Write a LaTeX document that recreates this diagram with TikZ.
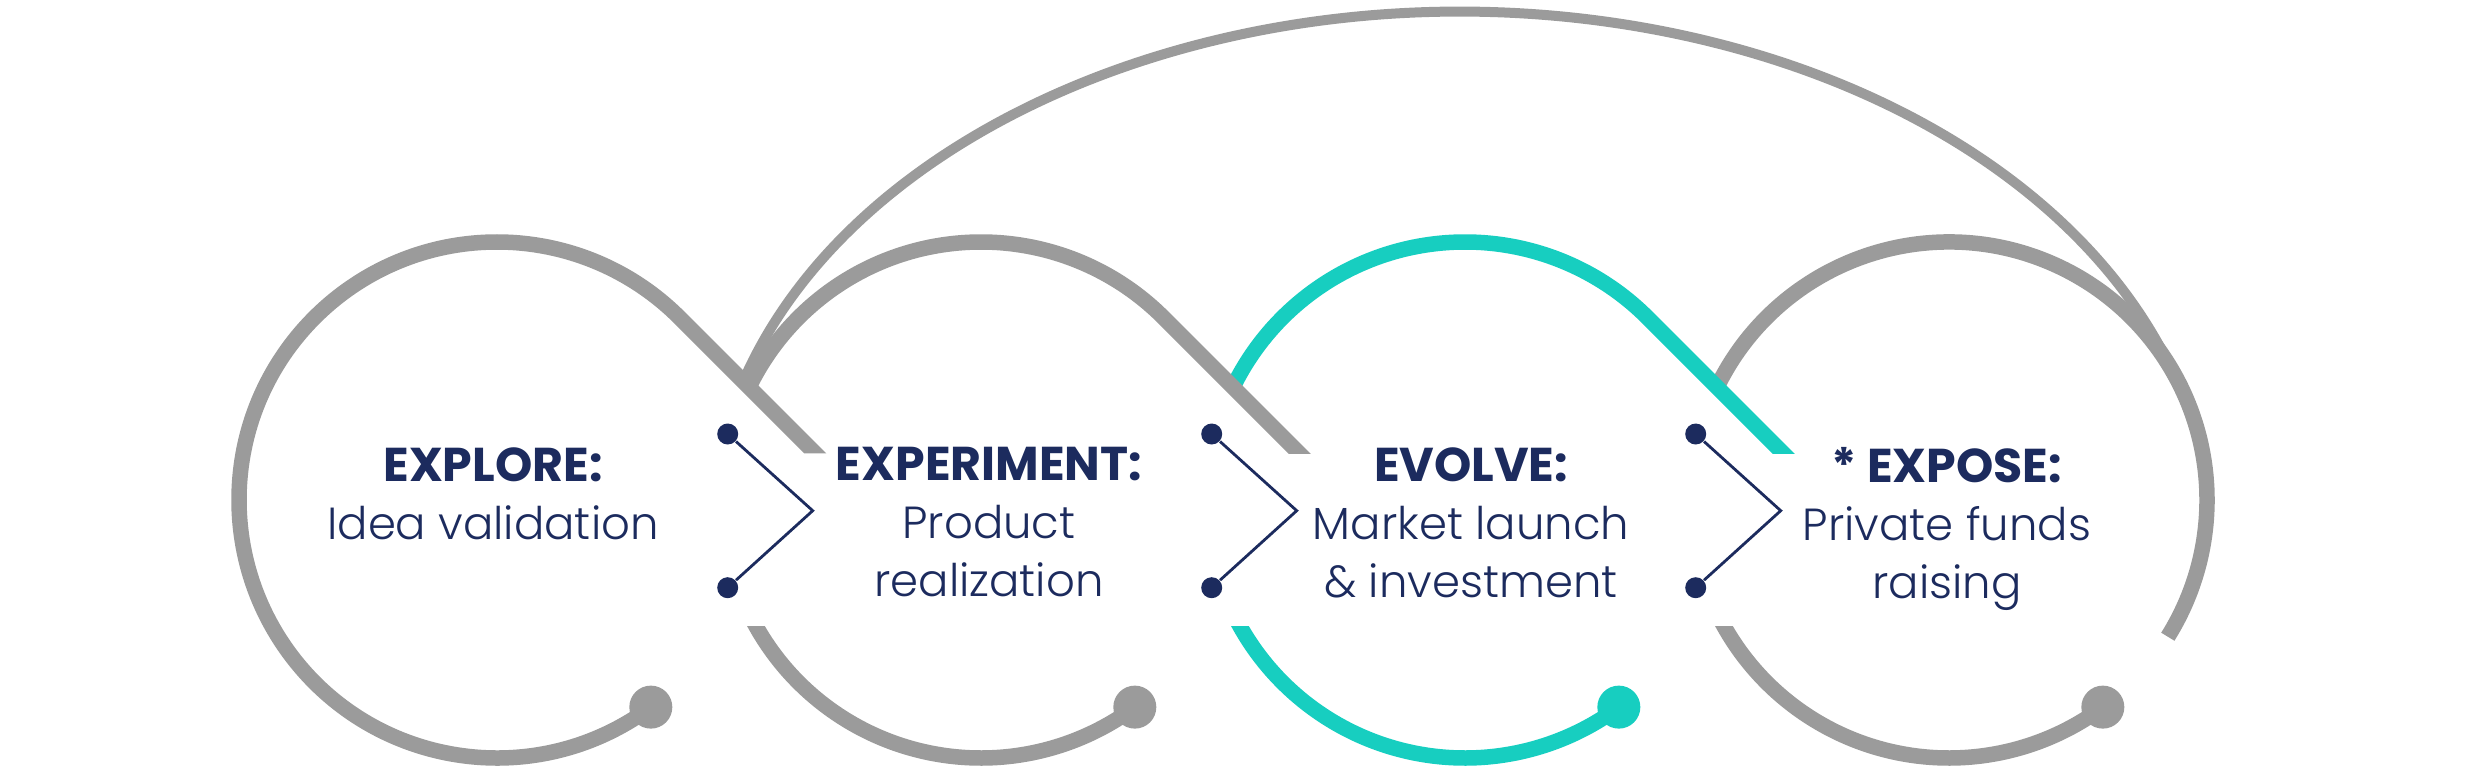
\documentclass[tikz,border=0pt]{standalone}
\usepackage{fontspec}
\setmainfont{Poppins Light}[BoldFont=Poppins Bold]
\usetikzlibrary{calc}
\definecolor{ringgray}{HTML}{9B9B9B}
\definecolor{ringteal}{HTML}{17CEC0}
\definecolor{inkblue}{HTML}{1C2B5E}
\newcommand{\stagehead}[1]{{\fontsize{13.5}{16.5}\selectfont\bfseries #1}}
\tikzset{
  ring/.style={line width=1.55mm},
  bigloop/.style={draw=ringgray, line width=1mm},
  knob/.style={circle, inner sep=0pt, minimum size=4.3mm},
  pin/.style={circle, fill=inkblue, inner sep=0pt, minimum size=2.1mm},
  zigzag/.style={draw=inkblue, line width=0.28mm},
  stage/.style={text=inkblue, align=center, anchor=north, inner sep=0pt,
    font=\fontsize{12.8}{16.5}\selectfont}
}
\begin{document}
\begin{tikzpicture}
\useasboundingbox (0,0) rectangle (24.8,7.76);
\coordinate (c1) at (4.97,2.76);
\coordinate (c2) at (9.81,2.76);
\coordinate (c3) at (14.65,2.76);
\coordinate (c4) at (19.49,2.76);
\coordinate (loopc) at (14.60,2.437);

% expose ring
\draw[ring, ringgray] ($(c4)+(155:2.58)$) arc[start angle=155, end angle=-32, radius=2.58];
\begin{scope}
  \clip ($(c4)+(-3,-3)$) rectangle ($(c4)+(3,-1.267)$);
  \draw[ring, ringgray] ($(c4)+(200:2.58)$) arc[start angle=200, end angle=306.6, radius=2.58];
\end{scope}
\node[knob, fill=ringgray] (knob4) at ($(c4)+(-53.4:2.58)$) {};

% long way back
\draw[bigloop] ($(loopc)+(163:7.49 and 5.206)$) arc[start angle=163, end angle=18, x radius=7.49, y radius=5.206];

% evolve ring
\begin{scope}
  \clip ($(c3)+(-3,0.467)$) rectangle ($(c3)+(3.6,2.9)$);
  \draw[ring, ringteal] ($(c3)+(155:2.58)$) arc[start angle=155, end angle=45, radius=2.58] -- ++(-45:2.2);
\end{scope}
\begin{scope}
  \clip ($(c3)+(-3,-3)$) rectangle ($(c3)+(3,-1.267)$);
  \draw[ring, ringteal] ($(c3)+(200:2.58)$) arc[start angle=200, end angle=306.6, radius=2.58];
\end{scope}
\node[knob, fill=ringteal] (knob3) at ($(c3)+(-53.4:2.58)$) {};

% experiment ring
\begin{scope}
  \clip ($(c2)+(-3,0.467)$) rectangle ($(c2)+(3.6,2.9)$);
  \draw[ring, ringgray] ($(c2)+(155:2.58)$) arc[start angle=155, end angle=45, radius=2.58] -- ++(-45:2.2);
\end{scope}
\begin{scope}
  \clip ($(c2)+(-3,-3)$) rectangle ($(c2)+(3,-1.267)$);
  \draw[ring, ringgray] ($(c2)+(200:2.58)$) arc[start angle=200, end angle=306.6, radius=2.58];
\end{scope}
\node[knob, fill=ringgray] (knob2) at ($(c2)+(-53.4:2.58)$) {};

% explore ring
\begin{scope}
  \clip ($(c1)+(-3,-0.2)$) -- ($(c1)+(1,-0.2)$) -- ($(c1)+(1,0.467)$) -- ($(c1)+(3.6,0.467)$)
    -- ($(c1)+(3.6,2.9)$) -- ($(c1)+(-3,2.9)$) -- cycle;
  \draw[ring, ringgray] ($(c1)+(180:2.58)$) arc[start angle=180, end angle=45, radius=2.58] -- ++(-45:2.2);
\end{scope}
\draw[ring, ringgray] ($(c1)+(-53.4:2.58)$) arc[start angle=-53.4, end angle=-180, radius=2.58];
\node[knob, fill=ringgray] (knob1) at ($(c1)+(-53.4:2.58)$) {};

% chevrons
\node[pin] (pin1a) at (7.277,3.42) {};
\node[pin] (pin1b) at (7.277,1.883) {};
\coordinate (tip1) at (8.127,2.653);
\draw[zigzag] (pin1a) -- (tip1) -- (pin1b);
\node[pin] (pin2a) at (12.117,3.42) {};
\node[pin] (pin2b) at (12.117,1.883) {};
\coordinate (tip2) at (12.967,2.653);
\draw[zigzag] (pin2a) -- (tip2) -- (pin2b);
\node[pin] (pin3a) at (16.957,3.42) {};
\node[pin] (pin3b) at (16.957,1.883) {};
\coordinate (tip3) at (17.807,2.653);
\draw[zigzag] (pin3a) -- (tip3) -- (pin3b);

% labels
\node[stage] (explore) at (4.93,3.293) {\stagehead{EXPLORE:}\\Idea validation};
\node[stage] (experiment) at (9.89,3.293) {\stagehead{EXPERIMENT:}\\Product\\realization};
\node[stage] (evolve) at (14.71,3.293) {\stagehead{EVOLVE:}\\Market launch\\\& investment};
\node[stage] (expose) at (19.47,3.293) {\stagehead{* EXPOSE:}\\Private funds\\raising};
\end{tikzpicture}
\end{document}
